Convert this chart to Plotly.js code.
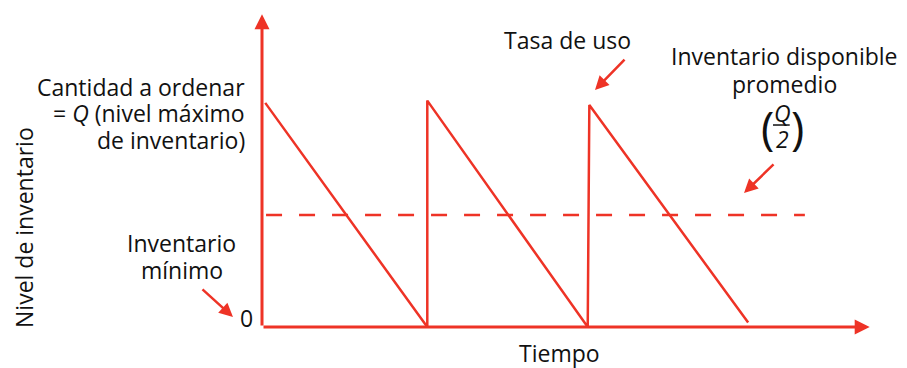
<!DOCTYPE html>
<html>
<head>
<meta charset="utf-8">
<script src="https://cdn.plot.ly/plotly-3.0.1.min.js"></script>
<style>
  html, body { margin: 0; padding: 0; background: white; }
  #graph { width: 907px; height: 368px; }
</style>
</head>
<body>
<div id="graph"></div>
<script>
// Datos del diente de sierra (tiempo en ciclos, nivel en unidades de Q)
var tiempo = [0.02, 1.02, 1.02, 2.01, 2.02, 3.0];
var nivel = [1.0, 0, 1.01, 0, 0.99, 0.02];

// Inventario promedio Q/2
var promedioX = [0.025, 3.35];
var promedioY = [0.5, 0.5];

// Extremos de los ejes
var ejeXmax = 3.75;
var ejeYmax = 1.395;

var rojo = '#ee3326';
var fuente = 'Open Sans, sans-serif';
var negro = '#111111';
var tam = 23;

var sierra = {
    x: tiempo,
    y: nivel,
    mode: 'lines',
    line: { color: rojo, width: 2.5 },
    hoverinfo: 'skip',
    cliponaxis: false
};

var promedio = {
    x: promedioX,
    y: promedioY,
    mode: 'lines',
    line: { color: rojo, width: 2.5, dash: '16px,17px' },
    hoverinfo: 'skip',
    cliponaxis: false
};

// Funcion para crear un texto (coordenadas paper)
function texto(t, x, y, xanchor, extra) {
    var a = {
        text: t,
        x: x,
        y: y,
        xref: 'paper',
        yref: 'paper',
        showarrow: false,
        xanchor: xanchor,
        yanchor: 'middle',
        align: xanchor == 'right' ? 'right' : 'center',
        borderpad: 0,
        font: { family: fuente, size: tam, color: negro }
    };
    for (var k in extra) a[k] = extra[k];
    return a;
}

// Funcion para crear una flecha
function flecha(x, y, ax, ay) {
    return {
        text: '',
        x: x,
        y: y,
        xref: 'paper',
        yref: 'paper',
        ax: ax,
        ay: ay,
        showarrow: true,
        arrowhead: 2,
        arrowsize: 1.1,
        arrowwidth: 2.5,
        arrowcolor: rojo,
        standoff: 0
    };
}

var anotaciones = [
    // Ejes
    {
        x: ejeXmax, y: 0, ax: 0, ay: 0, axref: 'x', ayref: 'y',
        xref: 'x', yref: 'y', text: '', showarrow: true,
        arrowhead: 2, arrowsize: 1, arrowwidth: 3, arrowcolor: rojo, standoff: 0
    },
    {
        x: 0, y: ejeYmax, ax: 0, ay: 0, axref: 'x', ayref: 'y',
        xref: 'x', yref: 'y', text: '', showarrow: true,
        arrowhead: 2, arrowsize: 1, arrowwidth: 3, arrowcolor: rojo, standoff: 0
    },
    texto('Cantidad a ordenar', -0.0253, 0.738, 'right'),
    texto('= <i>Q</i> (nivel máximo', -0.0253, 0.658, 'right'),
    texto('de inventario)', -0.0253, 0.575, 'right'),
    texto('Inventario', -0.1266, 0.258, 'center'),
    texto('mínimo', -0.1266, 0.175, 'center'),
    texto('0', -0.0245, 0.0277, 'center'),
    texto('Tiempo', 0.4715, -0.08, 'center'),
    texto('Tasa de uso', 0.4826, 0.883, 'center'),
    texto('Inventario disponible', 0.826, 0.834, 'center'),
    texto('promedio', 0.826, 0.748, 'center'),
    texto('Nivel de inventario', -0.3766, 0.3077, 'center', { textangle: -90 }),
    // Fraccion Q/2
    texto('(', 0.8006, 0.614, 'center', { font: { family: fuente, size: 45, color: negro } }),
    texto(')', 0.848, 0.614, 'center', { font: { family: fuente, size: 45, color: negro } }),
    texto('<i>Q</i>', 0.823, 0.658, 'center'),
    texto('<i>2</i>', 0.823, 0.578, 'center'),
    // Flechas de las etiquetas
    flecha(-0.0459, 0.0308, -32, -29),
    flecha(0.5269, 0.7292, 31, -32),
    flecha(0.7627, 0.4123, 31, -30)
];

var layout = {
    width: 907,
    height: 368,
    margin: { l: 262, r: 13, t: 2, b: 41 },
    paper_bgcolor: 'white',
    plot_bgcolor: 'white',
    showlegend: false,
    xaxis: {
        range: [0, 3.9],
        showgrid: false,
        zeroline: false,
        showline: false,
        showticklabels: false,
        ticks: '',
        fixedrange: true
    },
    yaxis: {
        range: [0, 1.45],
        showgrid: false,
        zeroline: false,
        showline: false,
        showticklabels: false,
        ticks: '',
        fixedrange: true
    },
    // Raya de la fraccion
    shapes: [{
        type: 'line',
        xref: 'paper',
        yref: 'paper',
        x0: 0.8085,
        x1: 0.835,
        y0: 0.6215,
        y1: 0.6215,
        line: { color: negro, width: 1.5 }
    }],
    annotations: anotaciones
};

var config = {
    staticPlot: true,
    displayModeBar: false
};

Plotly.newPlot('graph', [sierra, promedio], layout, config);
</script>
</body>
</html>
